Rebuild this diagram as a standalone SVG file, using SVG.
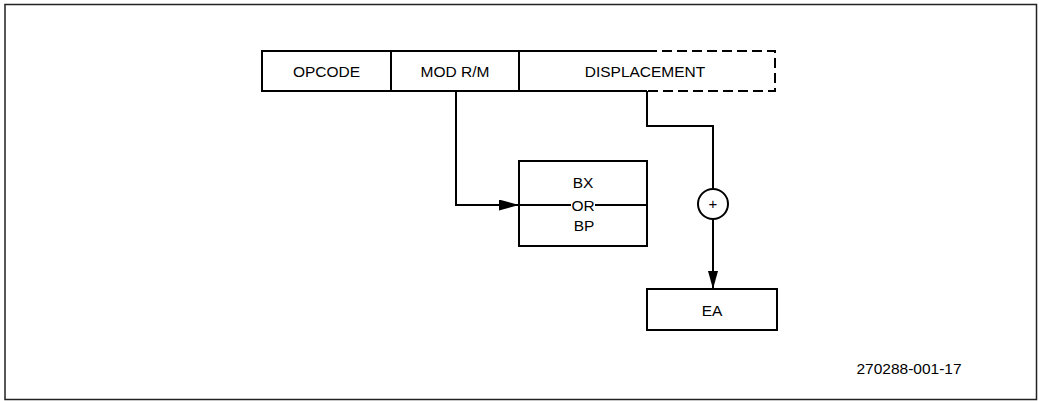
<svg xmlns="http://www.w3.org/2000/svg" width="1039" height="401" viewBox="0 0 1039 401">
<style>
.box{fill:none;stroke:#000;stroke-width:2}
.dash{fill:none;stroke:#000;stroke-width:2;stroke-dasharray:10,5}
.ln{fill:none;stroke:#000;stroke-width:2}
.t{font-family:"Liberation Sans",Arial,sans-serif;font-size:15.5px;fill:#000;text-anchor:middle}
</style>
<defs>
<marker id="ah" markerWidth="20" markerHeight="11" refX="20" refY="5.5" orient="auto" markerUnits="userSpaceOnUse">
<path d="M0,0 L20,5.5 L0,11 Z" fill="#000"/>
</marker>
<marker id="ahd" markerWidth="10" markerHeight="18" refX="5" refY="18" orient="0" markerUnits="userSpaceOnUse">
<path d="M0,0 L10,0 L5,18 Z" fill="#000"/>
</marker>
</defs>
<rect x="5" y="4.5" width="1031.5" height="395" fill="#fff" stroke="#222" stroke-width="1.5"/>
<g id="opcode"><rect class="box" x="262" y="51" width="129" height="40"/><text class="t" x="326.5" y="77">OPCODE</text></g>
<g id="modrm"><rect class="box" x="391" y="51" width="128" height="40"/><text class="t" x="455" y="77">MOD R/M</text></g>
<g id="displacement"><path class="box" d="M647,51 H519 V91 H647"/><path class="dash" d="M647,51 H775 V91 H647"/><text class="t" x="645" y="77">DISPLACEMENT</text></g>
<g id="bxbp"><rect class="box" x="519" y="161" width="128" height="85"/><text class="t" x="583" y="188">BX</text><text class="t" x="583" y="211">OR</text><text class="t" x="584" y="231">BP</text>
<path class="ln" d="M519,205 H571 M595,205 H647"/></g>
<g id="plus"><circle cx="713" cy="204" r="15" fill="#fff" stroke="#000" stroke-width="2"/><text class="t" x="713" y="209" style="font-size:15px">+</text></g>
<g id="ea"><rect class="box" x="647" y="289" width="130" height="41"/><text class="t" x="712" y="316">EA</text></g>
<g id="connectors">
<path class="ln" d="M456,91 V205 H519" marker-end="url(#ah)"/>
<path class="ln" d="M647,91 V126 H713 V189"/>
<path class="ln" d="M713,219 V289" marker-end="url(#ahd)"/>
</g>
<text x="909" y="374" style="font-family:'Liberation Sans',Arial,sans-serif;font-size:15.5px;text-anchor:middle">270288-001-17</text>
</svg>
